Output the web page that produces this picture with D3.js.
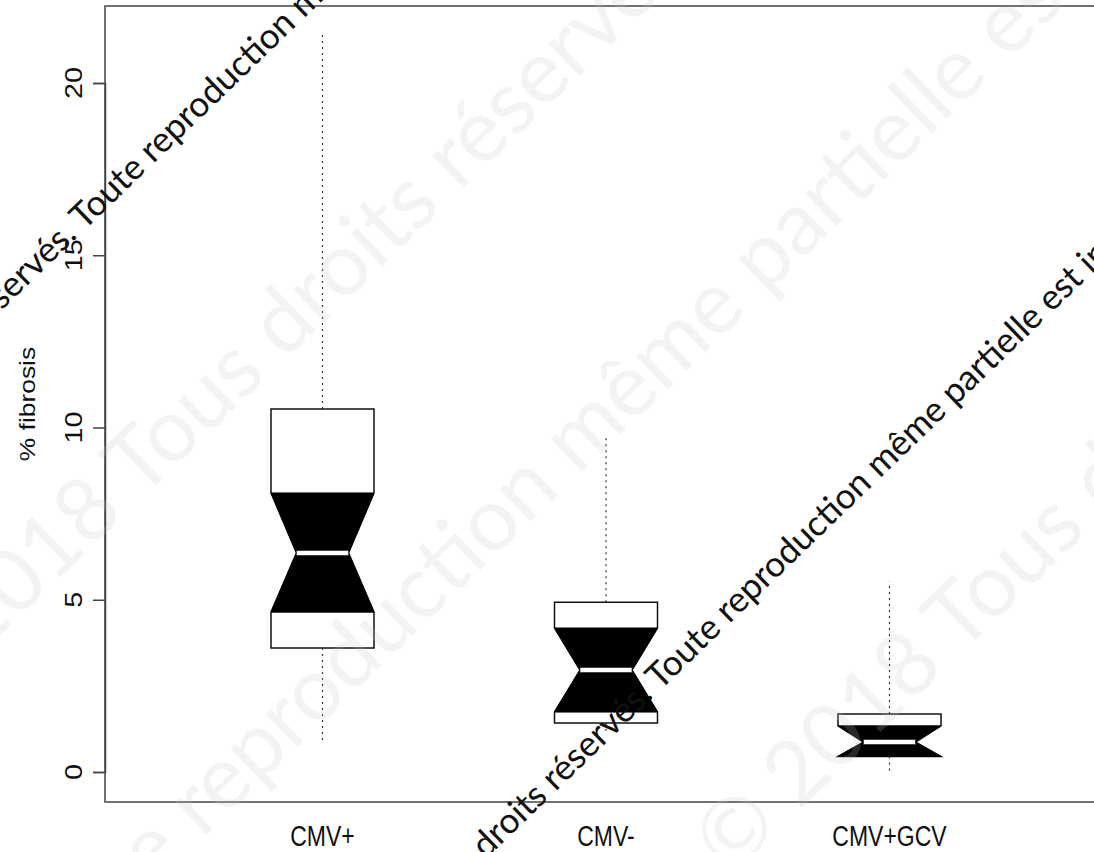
<!DOCTYPE html>
<meta charset="utf-8">
<script src="https://d3js.org/d3.v7.min.js"></script>
<style>
  body { margin: 0; background: #fff; }
</style>
<div id="chart"></div>
<script>
// Data
const groups      = ["CMV+", "CMV-", "CMV+GCV"];
const whiskerLow  = [0.9, 1.15, 0.0];
const q1          = [3.6, 1.42, 0.45];
const notchLow    = [4.64, 1.74, 0.45];
const median      = [6.36, 2.96, 0.87];
const notchHigh   = [8.1, 4.18, 1.34];
const q3          = [10.54, 4.93, 1.68];
const whiskerHigh = [21.4, 9.78, 5.52];
const yTicks      = [0, 5, 10, 15, 20];

const watermark = "© 2018 Tous droits réservés. Toute reproduction même partielle est interdite.";

const width = 1094, height = 852;
const frame = { left: 105, top: 6, right: 1110, bottom: 802 };

const svg = d3.select("#chart").append("svg")
  .attr("width", width)
  .attr("height", height);

const x = d3.scalePoint().domain(groups).range([322.5, 889.5]);
const y = d3.scaleLinear().domain([0, 20]).range([772, 83]);

const boxHalf = 51.5;
const notchHalf = 26;

const boxes = groups.map((g, i) => ({
  g, lo: whiskerLow[i], q1: q1[i], nl: notchLow[i], med: median[i],
  nh: notchHigh[i], q3: q3[i], hi: whiskerHigh[i]
}));

// frame
svg.append("rect")
  .attr("x", frame.left).attr("y", frame.top)
  .attr("width", frame.right - frame.left)
  .attr("height", frame.bottom - frame.top)
  .attr("fill", "none")
  .attr("stroke", "#444")
  .attr("stroke-width", 1.5);

// y axis
const yAxis = d3.axisLeft(y).tickValues(yTicks).tickSize(12).tickFormat("");
const ax = svg.append("g")
  .attr("transform", `translate(${frame.left},0)`)
  .call(yAxis);
ax.select(".domain").attr("stroke", "#444").attr("stroke-width", 1.5);
ax.selectAll(".tick line").attr("stroke", "#444").attr("stroke-width", 1.5);

svg.append("g").selectAll("text")
  .data(yTicks)
  .join("text")
    .attr("transform", d => `translate(82,${y(d)}) scale(1,1.2) rotate(-90)`)
    .attr("text-anchor", "middle")
    .attr("font-family", "Liberation Sans, Arial, sans-serif")
    .attr("font-size", 24)
    .attr("fill", "#111")
    .text(d => d);

svg.append("text")
  .attr("transform", `translate(35,404) scale(1,1.2) rotate(-90)`)
  .attr("text-anchor", "middle")
  .attr("font-family", "Liberation Sans, Arial, sans-serif")
  .attr("font-size", 22)
  .attr("fill", "#111")
  .text("% fibrosis");

// group labels
svg.append("g").selectAll("text")
  .data(groups)
  .join("text")
    .attr("transform", d => `translate(${x(d)},846) scale(1,1.3)`)
    .attr("text-anchor", "middle")
    .attr("font-family", "Liberation Sans, Arial, sans-serif")
    .attr("font-size", 23)
    .attr("fill", "#111")
    .text(d => d);

// whiskers
const wg = svg.append("g")
  .attr("stroke", "#333")
  .attr("stroke-width", 1.2)
  .attr("stroke-dasharray", "2,4");
wg.selectAll(".up").data(boxes).join("line")
  .attr("x1", d => x(d.g)).attr("x2", d => x(d.g))
  .attr("y1", d => y(d.q3)).attr("y2", d => y(d.hi));
wg.selectAll(".down").data(boxes).join("line")
  .attr("x1", d => x(d.g)).attr("x2", d => x(d.g))
  .attr("y1", d => y(d.q1)).attr("y2", d => y(d.lo));

// notched outline, white fill
const outline = d => {
  const c = x(d.g);
  return d3.line()([
    [c - boxHalf, y(d.q1)], [c - boxHalf, y(d.nl)], [c - notchHalf, y(d.med)],
    [c - boxHalf, y(d.nh)], [c - boxHalf, y(d.q3)], [c + boxHalf, y(d.q3)],
    [c + boxHalf, y(d.nh)], [c + notchHalf, y(d.med)], [c + boxHalf, y(d.nl)],
    [c + boxHalf, y(d.q1)]
  ]) + "Z";
};
svg.append("g").selectAll("path")
  .data(boxes)
  .join("path")
    .attr("d", outline)
    .attr("fill", "#fff")
    .attr("stroke", "#111")
    .attr("stroke-width", 1.5);

// black hourglass between notches
const hourglass = d => {
  const c = x(d.g);
  return d3.line()([
    [c - boxHalf, y(d.nh)], [c + boxHalf, y(d.nh)], [c + notchHalf, y(d.med)],
    [c + boxHalf, y(d.nl)], [c - boxHalf, y(d.nl)], [c - notchHalf, y(d.med)]
  ]) + "Z";
};
svg.append("g").selectAll("path")
  .data(boxes)
  .join("path")
    .attr("d", hourglass)
    .attr("fill", "#000")
    .attr("stroke", "#000")
    .attr("stroke-width", 1);

// median
svg.append("g").selectAll("rect")
  .data(boxes)
  .join("rect")
    .attr("x", d => x(d.g) - notchHalf)
    .attr("y", d => y(d.med) - 2.5)
    .attr("width", notchHalf * 2)
    .attr("height", 5)
    .attr("fill", "#fff")
    .attr("stroke", "#333")
    .attr("stroke-width", 0.8);

// watermarks: place the string so that `word` starts at point p
const angle = -44;
function stamp(word, p, size, fill, opacity) {
  const t = svg.append("text")
    .attr("font-family", "Lato, sans-serif")
    .attr("font-size", size)
    .attr("fill", fill)
    .attr("opacity", opacity)
    .attr("transform", `translate(${p[0]},${p[1]}) rotate(${angle})`)
    .text(watermark);
  const off = t.node().getSubStringLength(0, watermark.indexOf(word));
  t.attr("x", -off);
  return t;
}

// size of the dark watermark from the length of one phrase
const probe = stamp("Toute", [0, -500], 100, "#000", 0);
const seg = "Toute reproduction même partielle est ";
const len100 = probe.node().getSubStringLength(watermark.indexOf("Toute"), seg.length);
probe.remove();
const darkSize = 100 * 600 / len100;

stamp("Tous", [140, 500], 88, "#c8c8c8", 0.2);
stamp("partielle", [765, 295], 88, "#c8c8c8", 0.2);
stamp("Tous", [960, 655], 88, "#c8c8c8", 0.2);

stamp("Toute", [84, 231], darkSize, "#111", 1);
stamp("Toute", [660, 691], darkSize, "#111", 1);
</script>
